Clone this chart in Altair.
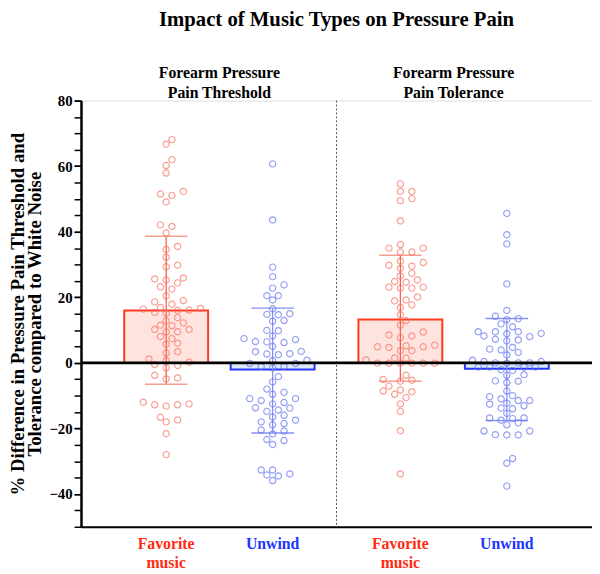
import altair as alt
import pandas as pd
import numpy as np

# ---------------- data ----------------
group_keys = ["fav_thr", "unw_thr", "fav_tol", "unw_tol"]
group_labels = ["Favorite\nmusic", "Unwind", "Favorite\nmusic", "Unwind"]
group_pos = [1.0, 2.0, 3.2, 4.2]
header_labels = ["Forearm Pressure\nPain Threshold", "Forearm Pressure\nPain Tolerance"]
header_pos = [1.5, 3.7]
major_ticks = [-40, -20, 0, 20, 40, 60, 80]
minor_ticks = list(range(-50, 81, 5))

bar_mean = [16.0, -2.0, 13.2, -1.8]
err_hi = [38.6, 16.7, 32.8, 13.5]
err_lo = [-6.5, -21.4, -5.6, -17.6]

fav_thr = [68.1, 66.7, 62.0, 60.2, 57.9, 52.3, 51.1, 51.5, 49.1, 41.6, 42.1, 39.6,
           35.5, 34.6, 32.2, 29.3, 29.8, 24.4, 25.9, 25.3, 25.6, 22.5, 23.2, 20.4,
           19.0, 18.6, 17.9, 16.6, 16.1, 16.9, 15.1, 15.4, 16.0, 16.4, 13.8, 12.8,
           12.2, 11.5, 11.3, 10.2, 9.5, 10.2, 9.4, 8.0, 7.4, 5.7, 6.0, 3.0, 3.4,
           0.7, 0.2, 1.2, -1.5, -0.8, -0.5, -3.8, -4.9, -4.6,
           -12.8, -12.0, -12.8, -12.5, -13.2, -18.0, -16.6, -17.4, -21.6, -28.0]
unw_thr = [60.7, 43.6, 29.2, 26.3, 22.8, 23.8, 20.5, 20.5, 19.2, 16.5, 14.7, 15.0,
           14.8, 12.7, 12.9, 9.8, 9.9, 8.2, 7.4, 7.1, 6.5, 6.2, 6.4, 5.0, 3.5, 3.4,
           2.7, 2.8, 2.5, 0.7, 0.8, -0.2, -1.1, -1.1, -0.2, -1.5, -4.2, -5.8, -8.0,
           -9.0, -9.6, -10.9, -10.9, -11.5, -12.1, -12.5, -13.8, -13.7, -14.4, -14.8,
           -16.5, -16.0, -17.5, -18.5, -18.0, -18.9, -20.5, -20.8, -21.7, -23.4,
           -23.7, -24.9, -32.7, -32.7, -34.2, -34.5, -33.9, -35.9]
fav_tol = [54.6, 52.3, 52.3, 49.5, 50.1, 43.3, 36.1, 33.8, 35.0, 33.8, 35.0, 30.6,
           31.0, 28.8, 29.5, 29.8, 27.3, 26.5, 24.6, 22.8, 23.1, 24.8, 22.8, 25.3,
           23.1, 19.2, 18.9, 20.1, 16.9, 17.7, 14.7, 12.9, 11.5, 9.4, 8.2, 8.5, 7.7,
           5.4, 4.9, 5.2, 4.7, 3.7, 4.9, 3.7, 1.4, 0.9, 1.5, -0.1, -0.1, -0.1, -0.1,
           -0.1, -0.1, -3.8, -5.1, -5.3, -5.6, -7.1, -8.8, -9.6, -8.6, -10.6, -8.3,
           -12.5, -14.8, -20.7, -33.9]
unw_tol = [45.6, 39.1, 36.3, 24.1, 16.0, 14.2, 13.5, 13.2, 11.0, 11.9, 9.5, 8.9,
           8.2, 9.0, 8.0, 9.5, 9.5, 7.0, 7.2, 6.7, 4.7, 4.2, 3.9, 3.2, 2.4, 0.8,
           -0.1, 0.0, 0.0, 0.0, 0.4, 0.4, -1.3, -1.3, -1.3, -1.3, -2.1, -2.3, -3.8,
           -3.6, -6.0, -5.5, -5.6, -8.6, -10.0, -10.3, -11.0, -11.5, -11.5, -12.6,
           -12.3, -13.1, -13.8, -14.0, -15.4, -16.8, -16.8, -17.0, -18.3, -17.5,
           -18.9, -20.8, -20.8, -22.0, -21.9, -22.0, -29.2, -30.6, -37.6]
series_values = [fav_thr, unw_thr, fav_tol, unw_tol]

bar_stroke = ["#FF3A20", "#2436FF", "#FF3A20", "#2436FF"]
bar_fill = ["#FFE3DF", "#DCECF6", "#FFE3DF", "#DCECF6"]
point_color = ["#F87565", "#6876F3", "#F87565", "#6876F3"]
err_color = ["#F4604E", "#8592F4", "#F4604E", "#8592F4"]
cap_color = ["#F8A090", "#8592F4", "#F8A090", "#8592F4"]
label_color = ["#FF2A10", "#1C36FF", "#FF2A10", "#1C36FF"]

# ---------------- layout ----------------
W, H = 518, 432
X_DOM = [0.2, 5.0]
Y_DOM = [-50, 80]
px_x = W / (X_DOM[1] - X_DOM[0])
px_y = H / (Y_DOM[1] - Y_DOM[0])
BAR_HALF = 0.394
CAP_HALF = 0.2
DIVIDER = 2.6
SERIF = "Liberation Serif"


def swarm(values, step_px=5.8, min_d=7.2):
    """Greedy beeswarm offsets (in x-data units)."""
    order = np.argsort(values)
    placed = []
    offs = np.zeros(len(values))
    cands = [0]
    for k in range(1, 15):
        cands += [k, -k]
    for i in order:
        y = values[i] * px_y
        for k in cands:
            x = k * step_px
            if all((x - px) ** 2 + (y - py) ** 2 >= min_d ** 2 for px, py in placed):
                placed.append((x, y))
                offs[i] = x / px_x
                break
    return offs


pts_rows = []
for g, vals in enumerate(series_values):
    offs = swarm(vals)
    for v, o in zip(vals, offs):
        pts_rows.append({"g": group_keys[g], "x": group_pos[g] + o, "v": v,
                         "col": point_color[g]})
pts = pd.DataFrame(pts_rows)

bars = pd.DataFrame({
    "g": group_keys,
    "x1": [p - BAR_HALF for p in group_pos],
    "x2": [p + BAR_HALF for p in group_pos],
    "xc": group_pos,
    "c1": [p - CAP_HALF for p in group_pos],
    "c2": [p + CAP_HALF for p in group_pos],
    "mean": bar_mean,
    "hi": err_hi,
    "lo": err_lo,
    "label": group_labels,
    "stroke": bar_stroke,
    "fill": bar_fill,
    "ecol": err_color,
    "ccol": cap_color,
    "lcol": label_color,
})
heads = pd.DataFrame({"x": header_pos, "label": header_labels})

xs = alt.Scale(domain=X_DOM, nice=False, zero=False)
ys = alt.Scale(domain=Y_DOM, nice=False, zero=False)

base_x = alt.X("x1:Q", scale=xs,
               axis=alt.Axis(title=None, labels=False, ticks=False, grid=False,
                             domainColor="black", domainWidth=2))
major_axis = alt.Axis(
    orient="left",
    title=["% Difference in Pressure Pain Threshold and", "Tolerance compared to White Noise"],
    values=major_ticks, format="d",
    labelOverlap=False, labelFlush=False,
    grid=False, domainColor="black", domainWidth=2, tickColor="black", tickWidth=1.5,
    tickSize=7, labelFont=SERIF, labelFontWeight="bold", labelFontSize=15,
    labelColor="black", labelPadding=2, titleFont=SERIF, titleFontWeight="bold",
    titleFontSize=19, titleColor="black", titlePadding=4, titleLineHeight=18,
)
minor_axis = alt.Axis(
    orient="left", title=None, values=minor_ticks, labels=False, grid=False,
    domainColor="black", domainWidth=2, tickColor="black", tickWidth=1.5, tickSize=7,
)

bar_layer = alt.Chart(bars).mark_bar(strokeWidth=2).encode(
    x=base_x, x2="x2:Q",
    y=alt.Y("mean:Q", scale=ys, axis=major_axis), y2=alt.datum(0),
    fill=alt.Fill("fill:N", scale=None),
    stroke=alt.Stroke("stroke:N", scale=None),
)

pt_layer = alt.Chart(pts).mark_point(shape="circle", filled=False, size=40, strokeWidth=1.2).encode(
    x=alt.X("x:Q", scale=xs), y=alt.Y("v:Q", scale=ys, axis=None),
    stroke=alt.Stroke("col:N", scale=None),
)

err_line = alt.Chart(bars).mark_rule(strokeWidth=1.3).encode(
    x=alt.X("xc:Q", scale=xs), y=alt.Y("lo:Q", scale=ys, axis=None), y2="hi:Q",
    stroke=alt.Stroke("ecol:N", scale=None),
)
cap_hi = alt.Chart(bars).mark_rule(strokeWidth=1.5).encode(
    x=alt.X("c1:Q", scale=xs), x2="c2:Q", y=alt.Y("hi:Q", scale=ys, axis=None),
    stroke=alt.Stroke("ccol:N", scale=None),
)
cap_lo = alt.Chart(bars).mark_rule(strokeWidth=1.5).encode(
    x=alt.X("c1:Q", scale=xs), x2="c2:Q", y=alt.Y("lo:Q", scale=ys, axis=None),
    stroke=alt.Stroke("ccol:N", scale=None),
)

zero_rule = alt.Chart(pd.DataFrame({"z": [0]})).mark_rule(color="black", strokeWidth=3).encode(
    y=alt.Y("z:Q", scale=ys, axis=minor_axis)
)
divider = alt.Chart(pd.DataFrame({"d": [DIVIDER]})).mark_rule(
    color="#555555", strokeWidth=1, strokeDash=[2, 2]
).encode(x=alt.X("d:Q", scale=xs))

head_layer = alt.Chart(heads).mark_text(
    font=SERIF, fontWeight="bold", fontSize=16, color="black", lineBreak="\n",
    lineHeight=20, baseline="middle", align="center"
).encode(x=alt.X("x:Q", scale=xs), y=alt.value(-28), text="label:N")

cat_layer = alt.Chart(bars).mark_text(
    font=SERIF, fontWeight="bold", fontSize=16, lineBreak="\n", lineHeight=19,
    baseline="middle", align="center"
).encode(
    x=alt.X("xc:Q", scale=xs), y=alt.value(H + 18), text="label:N",
    fill=alt.Fill("lcol:N", scale=None),
)

chart = alt.layer(
    bar_layer, divider, err_line, cap_hi, cap_lo, pt_layer, zero_rule, head_layer, cat_layer
).resolve_axis(y="independent").properties(
    width=W, height=H,
    title=alt.TitleParams("Impact of Music Types on Pressure Pain", font=SERIF,
                          fontSize=21, fontWeight="bold", color="black",
                          anchor="middle", frame="group", offset=36),
    autosize=alt.AutoSizeParams(type="none"),
    padding={"left": 74, "top": 90, "right": 0, "bottom": 44},
).configure_view(stroke=None).configure(background="white")

chart.save("out.html", embed_options={"renderer": "svg", "actions": False})
